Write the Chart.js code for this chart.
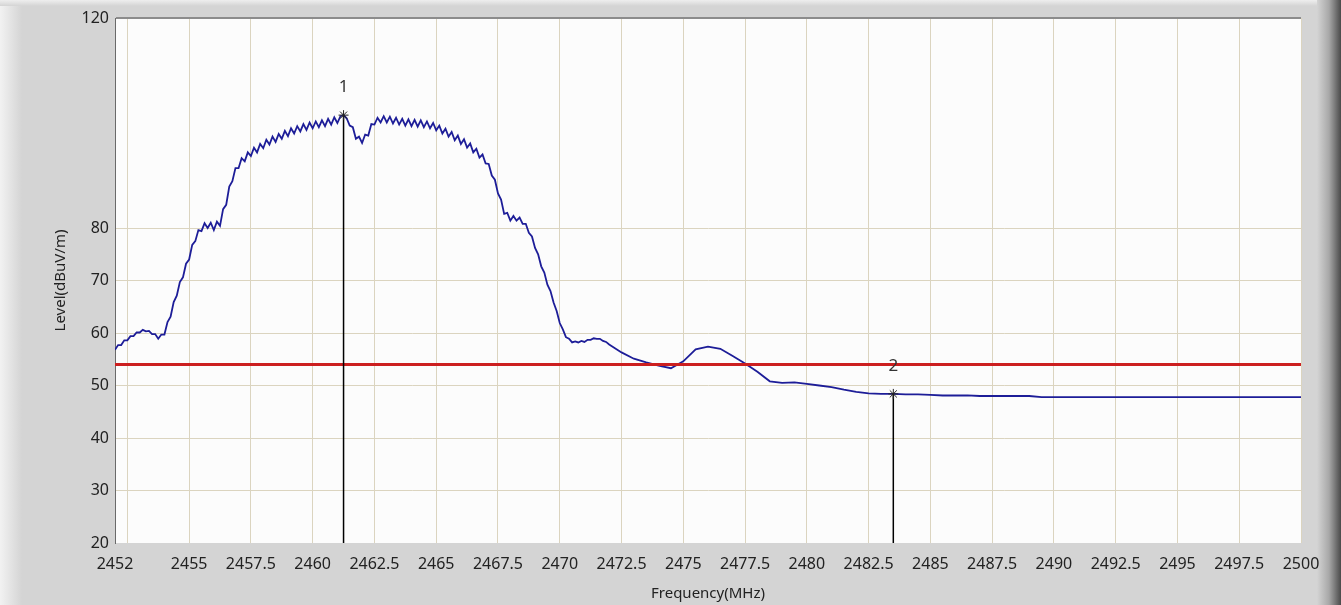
<!DOCTYPE html>
<html>
<head>
<meta charset="utf-8">
<title>Level vs Frequency</title>
<script src="https://cdn.jsdelivr.net/npm/chart.js@4.4.1/dist/chart.umd.min.js"></script>
<style>
  html, body { margin: 0; padding: 0; background: #d4d4d4; overflow: hidden; }
  canvas { display: block; }
</style>
</head>
<body>
<canvas id="myChart" width="1341" height="605"></canvas>
<script>
// tick positions
var xTicks = [2452, 2452.5, 2455, 2457.5, 2460, 2462.5, 2465, 2467.5, 2470, 2472.5, 2475,
  2477.5, 2480, 2482.5, 2485, 2487.5, 2490, 2492.5, 2495, 2497.5, 2500];
var yTicks = [20, 30, 40, 50, 60, 70, 80, 120];

// trace, 2452 .. 2472 MHz every 0.125 MHz
var fineStart = 2452, fineStep = 0.125;
var fineLevels = [
  56.8, 57.7, 57.7, 58.6, 58.6, 59.4, 59.4, 60.1,
  60.1, 60.6, 60.3, 60.4, 59.8, 59.8, 58.9, 59.7,
  59.7, 62.1, 63.1, 65.9, 67.1, 69.7, 70.6, 73.2,
  74.0, 76.8, 77.5, 79.6, 79.4, 80.9, 80.0, 81.0,
  79.6, 81.2, 80.4, 83.6, 84.4, 87.9, 88.9, 91.4,
  91.4, 93.3, 92.7, 94.4, 93.7, 95.3, 94.4, 96.0,
  95.2, 96.8, 95.9, 97.4, 96.4, 97.9, 97.0, 98.5,
  97.5, 99.0, 98.0, 99.4, 98.4, 99.8, 98.7, 100.1,
  99.0, 100.3, 99.2, 100.5, 99.4, 100.8, 99.7, 101.1,
  100.0, 101.3, 101.5, 100.9, 99.5, 99.2, 97.0, 97.4,
  96.2, 97.8, 97.6, 99.8, 99.7, 101.0, 100.1, 101.3,
  100.1, 101.2, 99.9, 101.0, 99.7, 100.8, 99.5, 100.7,
  99.4, 100.6, 99.3, 100.5, 99.2, 100.3, 99.0, 100.0,
  98.6, 99.5, 98.0, 98.9, 97.4, 98.3, 96.7, 97.6,
  96.0, 96.9, 95.3, 96.1, 94.4, 95.1, 93.4, 94.0,
  92.3, 92.2, 90.0, 89.2, 86.6, 85.4, 82.7, 82.9,
  81.4, 82.3, 81.4, 82.0, 80.8, 80.8, 79.1, 78.4,
  76.2, 75.0, 72.7, 71.5, 69.2, 68.0, 65.8, 64.2,
  61.9, 60.7, 59.2, 58.9, 58.2, 58.4, 58.2, 58.5,
  58.3, 58.7, 58.7, 59.0, 58.9, 58.9, 58.5, 58.3,
  57.8
];

// trace, 2472.5 .. 2500 MHz every 0.5 MHz
var coarseStart = 2472.5, coarseStep = 0.5;
var coarseLevels = [
  56.3, 55.1, 54.4, 53.8, 53.3, 54.6, 56.9, 57.4, 57.0, 55.6,
  54.2, 52.6, 50.8, 50.5, 50.6, 50.3, 50.0, 49.7, 49.2, 48.8,
  48.5, 48.4, 48.4, 48.3, 48.3, 48.2, 48.1, 48.1, 48.1, 48.0,
  48.0, 48.0, 48.0, 48.0, 47.8, 47.8, 47.8, 47.8, 47.8, 47.8,
  47.8, 47.8, 47.8, 47.8, 47.8, 47.8, 47.8, 47.8, 47.8, 47.8,
  47.8, 47.8, 47.8, 47.8, 47.8, 47.8
];

var limitLevel = 54;

var markerNames = ["1", "2"];
var markerFreqs = [2461.25, 2483.5];
var markerLevels = [101.5, 48.4];

var textColor = "#222222";
var gridColor = "#dbd4bf";
var fontFamily = "'Noto Sans', 'DejaVu Sans', sans-serif";

var trace = [];
fineLevels.forEach(function (v, i) {
  trace.push({ x: fineStart + i * fineStep, y: v });
});
coarseLevels.forEach(function (v, i) {
  trace.push({ x: coarseStart + i * coarseStep, y: v });
});

var datasets = [];
// limit line on top of trace
datasets.push({
  label: "Limit",
  data: [{ x: xTicks[0], y: limitLevel }, { x: xTicks[xTicks.length - 1], y: limitLevel }],
  borderColor: "#cc1f1f",
  borderWidth: 3,
  pointRadius: 0,
  order: 1,
});
markerFreqs.forEach(function (f, i) {
  datasets.push({
    label: "Marker " + markerNames[i],
    data: [{ x: f, y: yTicks[0] }, { x: f, y: markerLevels[i] }],
    borderColor: "#000000",
    borderWidth: 1.5,
    pointRadius: [0, 5],
    pointStyle: "star",
    pointBorderColor: "#222222",
    pointBorderWidth: 1,
    order: 0,
  });
});
datasets.push({
  label: "Level",
  data: trace,
  borderColor: "#1d1d98",
  borderWidth: 1.8,
  pointRadius: 0,
  tension: 0,
  order: 2,
});

// panel background + white plot area
var backgroundPlugin = {
  id: "panelBg",
  beforeDraw: function (chart) {
    var c = chart.ctx, w = chart.width, h = chart.height, a = chart.chartArea;
    c.save();
    c.fillStyle = "#d4d4d4";
    c.fillRect(0, 0, w, h);
    var g = c.createLinearGradient(0, 0, 22, 0);
    g.addColorStop(0, "#f2f2f2");
    g.addColorStop(1, "#d4d4d4");
    c.fillStyle = g;
    c.fillRect(0, 0, 22, h);
    var gt = c.createLinearGradient(0, 0, 0, 6);
    gt.addColorStop(0, "#eeeeee");
    gt.addColorStop(1, "#d4d4d4");
    c.fillStyle = gt;
    c.fillRect(0, 0, w, 6);
    var gr = c.createLinearGradient(w - 24, 0, w, 0);
    gr.addColorStop(0, "#d4d4d4");
    gr.addColorStop(0.5, "#a8a8a8");
    gr.addColorStop(1, "#4a4a4a");
    c.fillStyle = gr;
    c.fillRect(w - 24, 0, 24, h);
    c.fillStyle = "#fcfcfc";
    c.fillRect(a.left, a.top, a.right - a.left, a.bottom - a.top);
    c.restore();
  },
};

// marker numbers above the marker points
var markerLabelPlugin = {
  id: "markerLabels",
  afterDatasetsDraw: function (chart) {
    var c = chart.ctx, xs = chart.scales.x, ys = chart.scales.y;
    c.save();
    c.font = "17px " + fontFamily;
    c.fillStyle = "#333333";
    c.textAlign = "center";
    c.textBaseline = "middle";
    markerFreqs.forEach(function (f, i) {
      c.fillText(markerNames[i], xs.getPixelForValue(f), ys.getPixelForValue(markerLevels[i]) - 28);
    });
    c.restore();
  },
};

var ctx = document.getElementById("myChart").getContext("2d");
var myChart = new Chart(ctx, {
  type: "line",
  data: { datasets: datasets },
  plugins: [backgroundPlugin, markerLabelPlugin],
  options: {
    responsive: false,
    animation: false,
    layout: { padding: { left: 0, top: 18, right: 40, bottom: 0 } },
    plugins: {
      legend: { display: false },
      tooltip: { enabled: false },
    },
    scales: {
      x: {
        type: "linear",
        min: 2452,
        max: 2500,
        afterBuildTicks: function (s) {
          s.ticks = xTicks.map(function (v) { return { value: v }; });
        },
        afterFit: function (s) { s.height = 62; },
        ticks: {
          autoSkip: false,
          maxRotation: 0,
          padding: 12,
          color: textColor,
          font: { family: fontFamily, size: 16 },
          callback: function (v) { return v === 2452.5 ? "" : String(v); },
        },
        grid: {
          drawTicks: false,
          color: function (c) {
            return c.tick && c.tick.value === 2452 ? "rgba(0,0,0,0)" : gridColor;
          },
        },
        border: { display: false },
        title: {
          display: true,
          text: "Frequency(MHz)",
          color: textColor,
          font: { family: fontFamily, size: 15 },
          padding: { top: 0, bottom: 2 },
        },
      },
      y: {
        min: 20,
        max: 120,
        afterBuildTicks: function (s) {
          s.ticks = yTicks.map(function (v) { return { value: v }; });
        },
        afterFit: function (s) { s.width = 115; },
        ticks: {
          autoSkip: false,
          padding: 6,
          color: textColor,
          font: { family: fontFamily, size: 16 },
        },
        grid: {
          drawTicks: false,
          color: function (c) {
            if (!c.tick) return gridColor;
            if (c.tick.value === 120) return "#8c8c8c";
            if (c.tick.value === 20) return "rgba(0,0,0,0)";
            return gridColor;
          },
          lineWidth: function (c) {
            return c.tick && c.tick.value === 120 ? 2 : 1;
          },
        },
        border: { display: true, color: "#6a6a6a", width: 1 },
        title: {
          display: true,
          text: "Level(dBuV/m)",
          color: textColor,
          font: { family: fontFamily, size: 15 },
          padding: { top: 52, bottom: 0 },
        },
      },
    },
  },
});
</script>
</body>
</html>
